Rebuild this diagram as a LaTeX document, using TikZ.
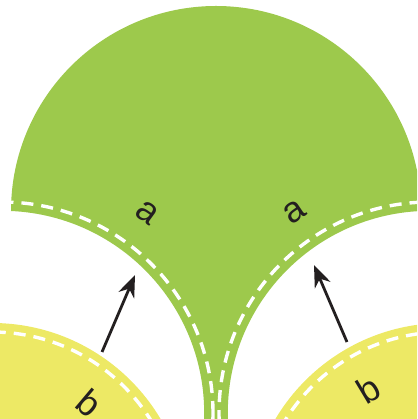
\documentclass[tikz,border=0pt]{standalone}
\usepackage{fontspec}
\setmainfont{Liberation Sans}
\usetikzlibrary{arrows.meta}

\definecolor{leafgreen}{RGB}{157,201,76}
\definecolor{leafyellow}{RGB}{237,233,101}
\definecolor{inkblack}{RGB}{35,31,32}

% outline of the green piece: top arc, then the two hollow edges
\newcommand{\leafpath}{(11,208) arc[start angle=180, end angle=0, radius=205pt]
  arc[start angle=92.55, end angle=182.27, radius=202.2pt] -- (204,-2)
  arc[start angle=-2.27, end angle=87.45, radius=202.2pt] -- cycle}

\begin{document}
\begin{tikzpicture}[x=1pt, y=1pt, >={Stealth[length=22pt,width=17pt]},
    seam/.style={white, line width=3.4pt, dash pattern=on 12pt off 8pt},
    pointer/.style={->, inkblack, line width=2.8pt},
    edgelabel/.style={inkblack, font=\fontsize{36}{40}\selectfont, inner sep=0pt}]
    \useasboundingbox (0,0) rectangle (417,419);
    \clip (0,0) rectangle (417,419);

    % the yellow pieces below
    \fill[leafyellow] (-8,-100) circle[radius=196pt];
    \fill[leafyellow] (444,-100) circle[radius=196pt];
    \draw[seam] (-8,-100) circle[radius=187pt];
    \draw[seam] (444,-100) circle[radius=187pt];

    \fill[leafgreen] \leafpath;
    \begin{scope}
        \clip \leafpath;
        \draw[seam] (2,6) circle[radius=211pt];
        \draw[seam] (430,6) circle[radius=211pt];
    \end{scope}

    \coordinate (lefttail) at (102,67);
    \coordinate (lefttip) at (135,144);
    \coordinate (righttail) at (347,77);
    \coordinate (righttip) at (314,154);
    \draw[pointer] (lefttail) -- (lefttip);
    \draw[pointer] (righttail) -- (righttip);

    \node[edgelabel, rotate=-36] (lefta) at (147,206) {a};
    \node[edgelabel, rotate=34] (righta) at (294,207) {a};
    \node[edgelabel, rotate=-40] (leftb) at (89,16) {b};
    \node[edgelabel, rotate=31] (rightb) at (368,30) {b};
\end{tikzpicture}
\end{document}
